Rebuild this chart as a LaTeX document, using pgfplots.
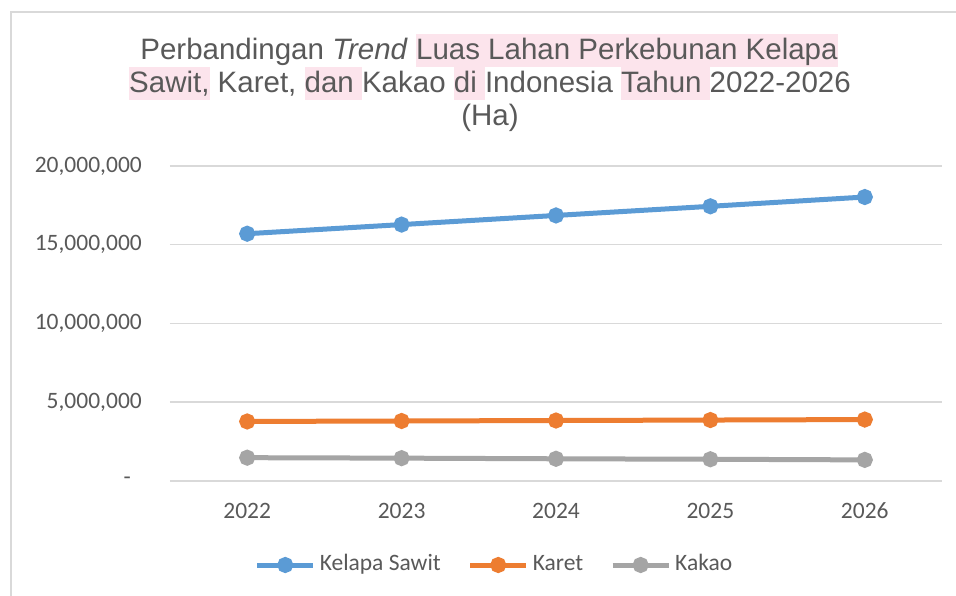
\documentclass[border=0pt]{standalone}
\usepackage{pgfplots}
\pgfplotsset{compat=1.18}
\usepackage{fontspec}
\setmainfont{Liberation Sans}
\newfontfamily\calfont{Carlito}
\definecolor{txt}{HTML}{595959}
\definecolor{gridc}{HTML}{D9D9D9}
\definecolor{sblue}{HTML}{5B9BD5}
\definecolor{sorange}{HTML}{ED7D31}
\definecolor{sgray}{HTML}{A5A5A5}
\definecolor{hlpink}{HTML}{FCE4EC}
\newcommand\hl[1]{{\setlength{\fboxsep}{0pt}\colorbox{hlpink}{\rule[-7pt]{0pt}{32.5pt}#1}}}
\begin{document}
\begin{tikzpicture}[x=1pt,y=1pt]
\useasboundingbox (0,0) rectangle (956,596);
\fill[white] (0,0) rectangle (956,596);
\draw[gridc, line width=1.5pt] (11,-10) -- (11,584) -- (970,584);
\begin{axis}[
  at={(170pt,115pt)}, anchor=south west,
  scale only axis, width=772pt, height=315pt,
  xmin=-0.5, xmax=4.5, ymin=0, ymax=20000000,
  xtick={0,1,2,3,4}, xticklabels={2022,2023,2024,2025,2026},
  ytick={0,5000000,10000000,15000000,20000000},
  yticklabels={{-\hspace*{11pt}},{5,000,000},{10,000,000},{15,000,000},{20,000,000}},
  scaled y ticks=false,
  axis line style={draw=none},
  major tick length=0pt,
  ymajorgrids, grid style={gridc, line width=1.5pt},
  tick label style={font=\calfont\fontsize{23.5}{28}\selectfont, text=txt},
  yticklabel style={anchor=east, inner sep=0pt, xshift=-28pt},
  xticklabel style={anchor=base, inner sep=0pt, yshift=-38pt},
  legend columns=3,
  legend style={draw=none, fill=none, at={(0.419,-0.2667)}, anchor=center,
    font=\calfont\fontsize{23.5}{28}\selectfont, text=txt,
    /tikz/every odd column/.style={column sep=4pt},
    /tikz/every even column/.style={column sep=27pt},
    nodes={inner sep=0pt, text height=15pt, text depth=5pt}},
  legend image code/.code={\draw[#1, mark repeat=2, mark phase=2] plot coordinates {(0pt,0pt) (28pt,0pt) (56pt,0pt)};},
  every axis plot/.append style={line width=5pt, mark=*, mark size=5.5pt, mark options={line width=0pt}},
  clip=false,
]
\addplot[sblue, mark options={fill=sblue, draw=sblue}] coordinates {(0,15700000) (1,16280000) (2,16860000) (3,17440000) (4,18030000)};
\addlegendentry{Kelapa Sawit}
\addplot[sorange, mark options={fill=sorange, draw=sorange}] coordinates {(0,3780000) (1,3810000) (2,3840000) (3,3870000) (4,3900000)};
\addlegendentry{Karet}
\addplot[sgray, mark options={fill=sgray, draw=sgray}] coordinates {(0,1480000) (1,1450000) (2,1410000) (3,1380000) (4,1340000)};
\addlegendentry{Kakao}
\end{axis}
\begin{scope}[every node/.style={anchor=base, inner sep=0pt, text=txt, font=\fontsize{29.5}{33}\selectfont}]
\node at (489,536) {Perbandingan \textit{Trend} \hl{Luas Lahan Perkebunan Kelapa}};
\node at (490,503.3) {\hl{Sawit,} Karet, \hl{dan }Kakao \hl{di }Indonesia \hl{Tahun }2022-2026};
\node at (490,470) {(Ha)};
\end{scope}
\end{tikzpicture}
\end{document}
